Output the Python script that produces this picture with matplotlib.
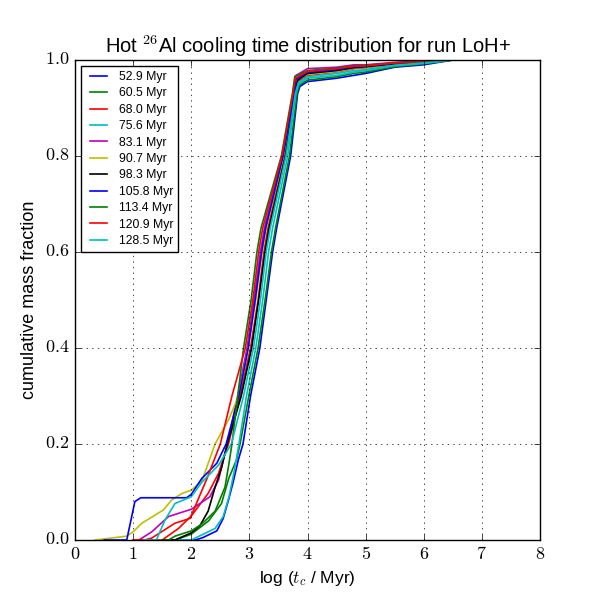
import numpy as np
import matplotlib
matplotlib.use("Agg")
import matplotlib.pyplot as plt
from matplotlib.ticker import FuncFormatter

# snapshot times (legend) and colours
labels = ["52.9 Myr", "60.5 Myr", "68.0 Myr", "75.6 Myr", "83.1 Myr", "90.7 Myr",
          "98.3 Myr", "105.8 Myr", "113.4 Myr", "120.9 Myr", "128.5 Myr"]
colors = ["b", "g", "r", "c", "m", "y", "k", "b", "g", "r", "c"]

# log(t_c / Myr) and cumulative mass fraction
x_529 = [1.5, 2.07, 2.2, 2.44, 2.55, 2.64, 2.72, 2.81, 2.89, 3.02, 3.18, 3.29, 3.40, 3.47, 3.71, 3.83, 3.87, 4.0, 4.5, 4.8, 5.0, 5.5, 6.0, 6.5, 8.0]
y_529 = [0.0, 0.0, 0.005, 0.019, 0.045, 0.083, 0.12, 0.167, 0.2, 0.3, 0.4, 0.5, 0.6, 0.65, 0.8, 0.93, 0.945, 0.955, 0.962, 0.968, 0.972, 0.985, 0.99, 1.0, 1.0]

x_605 = [1.5, 1.72, 2.0, 2.3, 2.52, 2.65, 2.78, 2.84, 2.99, 3.15, 3.27, 3.38, 3.45, 3.69, 3.82, 3.86, 4.0, 4.5, 4.8, 5.0, 5.5, 6.0, 6.5, 8.0]
y_605 = [0.0, 0.0, 0.012, 0.04, 0.076, 0.13, 0.167, 0.2, 0.3, 0.4, 0.5, 0.6, 0.65, 0.8, 0.93, 0.948, 0.958, 0.965, 0.972, 0.975, 0.986, 0.992, 1.0, 1.0]

x_680 = [1.3, 1.5, 1.78, 2.0, 2.29, 2.47, 2.58, 2.64, 2.84, 3.02, 3.15, 3.25, 3.32, 3.60, 3.78, 3.82, 4.0, 4.5, 4.8, 5.0, 5.5, 6.0, 6.5, 8.0]
y_680 = [0.0, 0.0, 0.024, 0.05, 0.097, 0.139, 0.18, 0.2, 0.3, 0.4, 0.5, 0.6, 0.65, 0.8, 0.93, 0.955, 0.968, 0.975, 0.982, 0.984, 0.991, 0.995, 1.0, 1.0]

x_756 = [1.5, 2.0, 2.41, 2.55, 2.65, 2.75, 2.82, 2.95, 3.11, 3.23, 3.33, 3.40, 3.66, 3.80, 3.85, 4.0, 4.5, 4.8, 5.0, 5.5, 6.0, 6.5, 8.0]
y_756 = [0.0, 0.0, 0.024, 0.049, 0.09, 0.15, 0.2, 0.3, 0.4, 0.5, 0.6, 0.65, 0.8, 0.93, 0.95, 0.962, 0.968, 0.975, 0.978, 0.988, 0.993, 1.0, 1.0]

x_831 = [1.0, 1.1, 1.32, 1.61, 2.0, 2.32, 2.47, 2.55, 2.62, 2.80, 2.96, 3.08, 3.19, 3.26, 3.57, 3.76, 3.79, 4.0, 4.5, 4.8, 5.0, 5.5, 6.0, 6.5, 8.0]
y_831 = [0.0, 0.0, 0.017, 0.049, 0.064, 0.09, 0.125, 0.167, 0.2, 0.3, 0.4, 0.5, 0.6, 0.65, 0.8, 0.93, 0.967, 0.982, 0.985, 0.99, 0.99, 0.995, 0.998, 1.0, 1.0]

x_907 = [0.35, 0.89, 1.0, 1.15, 1.52, 1.66, 1.84, 2.0, 2.18, 2.41, 2.64, 2.78, 2.85, 2.98, 3.11, 3.22, 3.29, 3.59, 3.77, 3.81, 4.0, 4.5, 4.8, 5.0, 5.5, 6.0, 6.5, 8.0]
y_907 = [0.0, 0.008, 0.017, 0.035, 0.0625, 0.083, 0.097, 0.104, 0.122, 0.2, 0.25, 0.29, 0.32, 0.4, 0.5, 0.6, 0.65, 0.8, 0.93, 0.957, 0.97, 0.976, 0.983, 0.985, 0.991, 0.996, 1.0, 1.0]

x_983 = [1.5, 1.72, 2.0, 2.15, 2.29, 2.41, 2.52, 2.62, 2.86, 3.04, 3.16, 3.27, 3.34, 3.62, 3.78, 3.83, 4.0, 4.5, 4.8, 5.0, 5.5, 6.0, 6.5, 8.0]
y_983 = [0.0, 0.0, 0.015, 0.03, 0.06, 0.11, 0.15, 0.2, 0.3, 0.4, 0.5, 0.6, 0.65, 0.8, 0.93, 0.958, 0.972, 0.978, 0.984, 0.986, 0.992, 0.996, 1.0, 1.0]

x_1058 = [0.5, 0.89, 1.03, 1.13, 1.92, 2.0, 2.18, 2.44, 2.6, 2.82, 2.98, 3.10, 3.21, 3.28, 3.58, 3.77, 3.80, 4.0, 4.5, 4.8, 5.0, 5.5, 6.0, 6.5, 8.0]
y_1058 = [0.0, 0.0, 0.08, 0.088, 0.088, 0.095, 0.128, 0.16, 0.2, 0.3, 0.4, 0.5, 0.6, 0.65, 0.8, 0.93, 0.96, 0.974, 0.98, 0.986, 0.987, 0.993, 0.997, 1.0, 1.0]

x_1134 = [1.5, 1.61, 1.72, 2.0, 2.18, 2.41, 2.58, 2.65, 2.70, 2.80, 2.90, 3.03, 3.13, 3.20, 3.55, 3.74, 3.78, 4.0, 4.5, 4.8, 5.0, 5.5, 6.0, 6.5, 8.0]
y_1134 = [0.0, 0.0, 0.008, 0.019, 0.033, 0.06, 0.11, 0.16, 0.2, 0.3, 0.4, 0.5, 0.6, 0.65, 0.8, 0.93, 0.965, 0.978, 0.983, 0.988, 0.989, 0.994, 0.997, 1.0, 1.0]

x_1209 = [1.0, 1.2, 1.32, 1.72, 1.98, 2.27, 2.5, 2.7, 2.93, 3.06, 3.16, 3.23, 3.56, 3.75, 3.79, 4.0, 4.5, 4.8, 5.0, 5.5, 6.0, 6.5, 8.0]
y_1209 = [0.0, 0.0, 0.004, 0.035, 0.045, 0.128, 0.2, 0.3, 0.4, 0.5, 0.6, 0.65, 0.8, 0.93, 0.962, 0.976, 0.982, 0.987, 0.988, 0.994, 0.997, 1.0, 1.0]

x_1285 = [1.2, 1.4, 1.55, 1.72, 2.0, 2.18, 2.47, 2.69, 2.90, 3.07, 3.19, 3.29, 3.36, 3.63, 3.79, 3.84, 4.0, 4.5, 4.8, 5.0, 5.5, 6.0, 6.5, 8.0]
y_1285 = [0.0, 0.0, 0.042, 0.076, 0.09, 0.12, 0.156, 0.2, 0.3, 0.4, 0.5, 0.6, 0.65, 0.8, 0.93, 0.952, 0.965, 0.972, 0.978, 0.98, 0.989, 0.994, 1.0, 1.0]

xs = [x_529, x_605, x_680, x_756, x_831, x_907, x_983, x_1058, x_1134, x_1209, x_1285]
ys = [y_529, y_605, y_680, y_756, y_831, y_907, y_983, y_1058, y_1134, y_1209, y_1285]

plt.style.use('classic')
plt.rcParams['font.family'] = ['Liberation Sans', 'DejaVu Sans']
plt.rcParams['mathtext.fontset'] = 'cm'

fig = plt.figure(figsize=(6, 6), dpi=100)
ax = fig.add_axes([0.125, 0.1, 0.775, 0.8])

for x, y, c, lab in zip(xs, ys, colors, labels):
    ax.plot(x, y, color=c, lw=1.2, label=lab)

ax.set_xlim(0, 8)
ax.set_ylim(0, 1)
ax.set_xticks(range(9))
ax.set_yticks(np.arange(0, 1.01, 0.2))
ax.xaxis.set_major_formatter(FuncFormatter(lambda v, p: r'$%d$' % v))
ax.yaxis.set_major_formatter(FuncFormatter(lambda v, p: r'$%.1f$' % v))
ax.tick_params(labelsize=13)
ax.grid(True)

ax.set_title(r'Hot $^{26}$Al cooling time distribution for run LoH+', fontsize=14.5)
ax.set_xlabel(r'log ($t_c$ / Myr)', fontsize=12.5)
ax.set_ylabel('cumulative mass fraction', fontsize=13)

leg = ax.legend(loc='upper left', fontsize=8.8, labelspacing=0.36,
                handletextpad=0.7, handlelength=2.0)

fig.savefig('out.png', dpi=100, facecolor='white')
